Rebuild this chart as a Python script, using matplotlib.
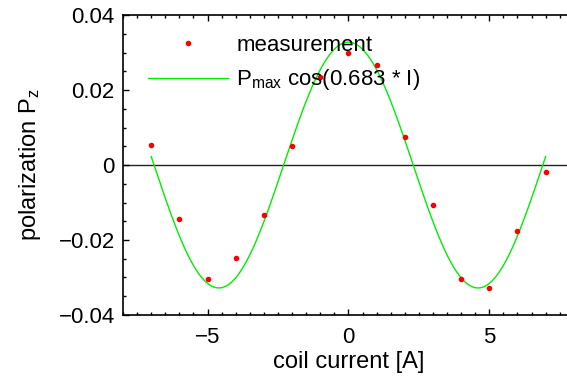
import numpy as np
import matplotlib.pyplot as plt
from matplotlib.ticker import MultipleLocator

plt.rcParams['font.family'] = ['Liberation Sans', 'DejaVu Sans']
plt.rcParams['mathtext.fontset'] = 'custom'
plt.rcParams['mathtext.rm'] = 'Liberation Sans'
plt.rcParams['mathtext.it'] = 'Liberation Sans'

# measured polarization vs coil current
current = [-7, -6, -5, -4, -3, -2, -1, 0, 1, 2, 3, 4, 5, 6, 7]
pz = [0.0053, -0.0144, -0.0304, -0.0248, -0.0133, 0.0051, 0.0235, 0.0298,
      0.0266, 0.0074, -0.0107, -0.0304, -0.0328, -0.0175, -0.0019]

# fit parameters
pmax = 0.0328
omega = 0.683

fs = 16
fig = plt.figure(figsize=(5.67, 3.79), dpi=100)
ax = fig.add_axes([0.217, 0.169, 1.012 - 0.217, 0.791])

xf = np.linspace(-7, 7, 400)
ax.axhline(0, color='#222222', lw=1.0, zorder=1)
ax.plot(current, pz, '.', color='red', ms=6, label='measurement', zorder=3)
ax.plot(xf, pmax*np.cos(omega*xf), color='#00ee00', lw=1.0,
        label=r'P$_{\mathregular{max}}$ cos(0.683 * I)', zorder=2)

ax.set_xlim(-8, 8)
ax.set_ylim(-0.04, 0.04)
ax.set_xticks([-5, 0, 5])
ax.set_xticklabels(['\u22125', '0', '5'])
ax.set_yticks([-0.04, -0.02, 0, 0.02, 0.04])
ax.set_yticklabels(['\u22120.04', '\u22120.02', '0', '0.02', '0.04'])
ax.xaxis.set_minor_locator(MultipleLocator(0.5))
ax.yaxis.set_minor_locator(MultipleLocator(0.005))
ax.tick_params(which='both', direction='in', top=True, right=True, labelsize=fs, width=1)
ax.tick_params(which='major', length=4)
ax.tick_params(axis='x', which='major', pad=9)
ax.tick_params(axis='y', which='major', pad=6)
ax.tick_params(which='minor', length=2)
for s in ax.spines.values():
    s.set_linewidth(1.2)

ax.set_xlabel('coil current [A]', fontsize=17, labelpad=2)
ax.set_ylabel('polarization P$_\\mathregular{z}$', fontsize=17, labelpad=11)

ax.legend(loc='upper left', bbox_to_anchor=(0.02, 0.985), frameon=False,
          fontsize=fs, handlelength=3.6, handletextpad=0.4, labelspacing=0.5,
          borderaxespad=0.3)

fig.savefig('out.png', dpi=100)
